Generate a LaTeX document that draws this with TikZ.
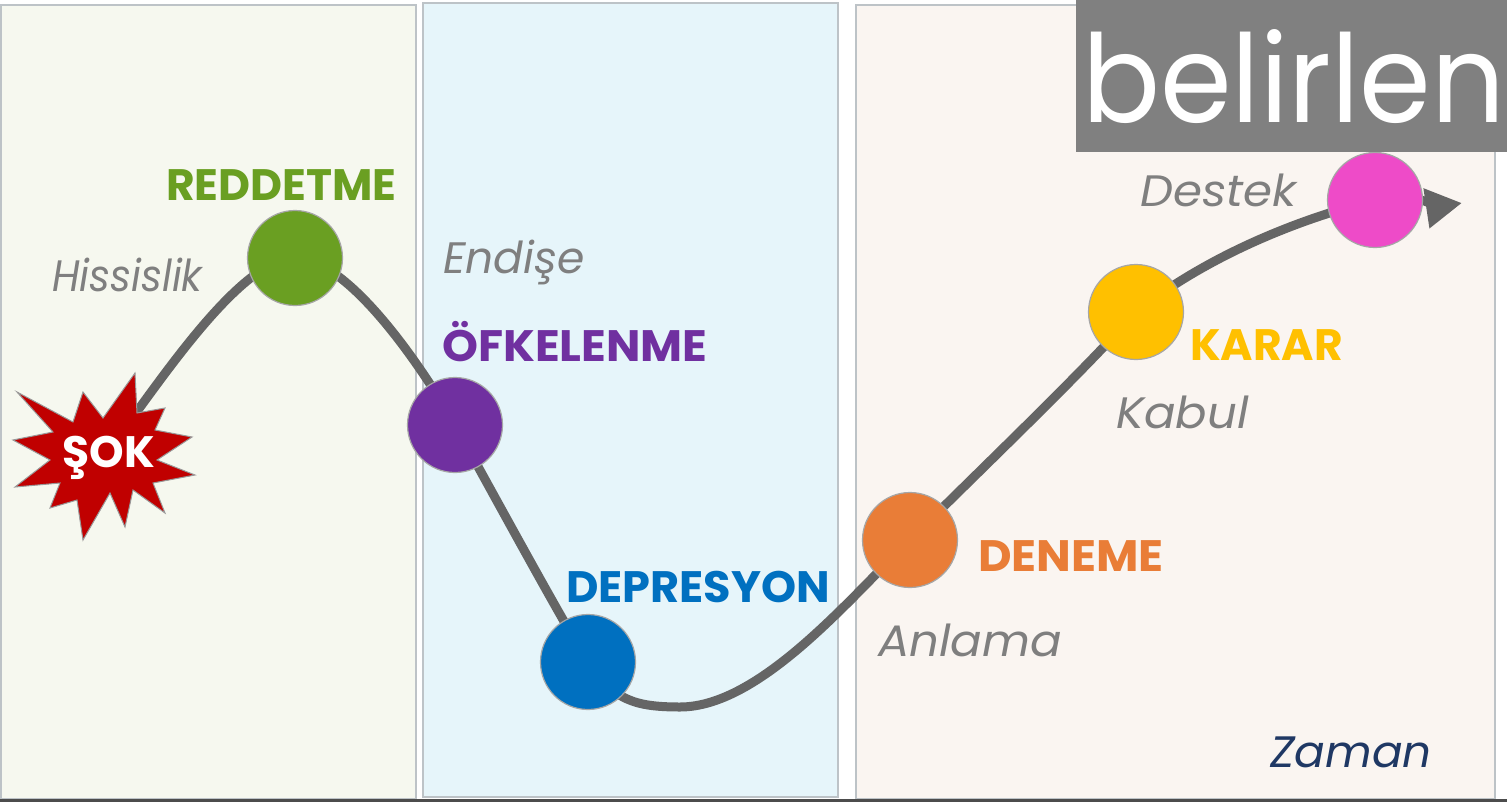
\documentclass[tikz,border=0pt]{standalone}
\usepackage{fontspec}
\setmainfont{Poppins}
\usetikzlibrary{arrows.meta}
\definecolor{panelA}{HTML}{F6F8EF}
\definecolor{panelB}{HTML}{E6F5FA}
\definecolor{panelC}{HTML}{FAF5F1}
\definecolor{panelEdge}{HTML}{BDC3C7}
\definecolor{curveGray}{HTML}{656565}
\definecolor{labelGray}{HTML}{7F7F7F}
\definecolor{cGreen}{HTML}{6A9F22}
\definecolor{cPurple}{HTML}{7030A0}
\definecolor{cBlue}{HTML}{0070C0}
\definecolor{cOrange}{HTML}{E97D37}
\definecolor{cYellow}{HTML}{FFC000}
\definecolor{cMagenta}{HTML}{EE4BC8}
\definecolor{shockRed}{HTML}{C00000}
\definecolor{timeBlue}{HTML}{1F3864}
\definecolor{tagGray}{HTML}{808080}
\tikzset{
  panel/.style={fill=#1, draw=panelEdge, line width=1.5pt},
  stage/.style={circle, minimum size=95pt, inner sep=0pt, fill=#1, draw=gray!70, line width=1.2pt},
  phase/.style={anchor=west, inner sep=0pt, text=#1, font=\fontsize{44}{48}\selectfont\bfseries},
  feeling/.style={anchor=west, inner sep=0pt, text=labelGray, font=\fontsize{44}{48}\selectfont\itshape},
  journey/.style={draw=curveGray, line width=9pt, -{Triangle[length=36pt 0,width=38pt 0]}}
}
\begin{document}
\begin{tikzpicture}[x=1pt,y=-1pt]
\useasboundingbox (0,0) rectangle (1507,809);
\fill[white] (0,0) rectangle (1507,809);

% three phase panels
\draw[panel=panelA] (1,5) rectangle (416,799);
\draw[panel=panelB] (423,3) rectangle (838,797);
\draw[panel=panelC] (856,5) rectangle (1495,799);
% time axis
\draw[draw=black!70, line width=3pt] (0,800) -- (1507,800);

% stage positions
\coordinate (pStart) at (118,437);
\coordinate (pRed) at (295,258);
\coordinate (pAng) at (455,425);
\coordinate (pDep) at (588,662);
\coordinate (pLow) at (680,707);
\coordinate (pTry) at (910,540);
\coordinate (pDec) at (1136,312);
\coordinate (pSup) at (1375,200);
\coordinate (pEnd) at (1462,203);

% change curve
\draw[journey] (pStart)
  .. controls +(40,-52) and +(-55,0) .. (pRed)
  .. controls +(55,0) and +(-28,-50) .. (pAng)
  .. controls +(40,72) and +(-28,-45) .. (pDep)
  .. controls +(25,38) and +(-45,0) .. (pLow)
  .. controls +(80,0) and +(-60,58) .. (pTry)
  .. controls +(70,-70) and +(-55,62) .. (pDec)
  .. controls +(70,-55) and +(-80,20) .. (pSup)
  .. controls +(40,-8) and +(-20,3) .. (pEnd);

% shock burst
\draw[fill=shockRed, draw=gray!80, line width=1pt]
  (135,373) -- (137,413) -- (165,408) -- (155,430) -- (192,437) -- (157,460)
  -- (195,475) -- (153,483) -- (165,513) -- (133,490) -- (125,527) -- (110,493)
  -- (83,540) -- (77,500) -- (50,508) -- (60,483) -- (15,487) -- (50,460)
  -- (13,440) -- (53,432) -- (17,392) -- (73,422) -- (83,392) -- (103,418) -- cycle;
\node[inner sep=0pt, text=white, font=\fontsize{44}{48}\selectfont\bfseries] (shock) at (109,458) {ŞOK};

% stage circles
\node[stage=cGreen] (red) at (pRed) {};
\node[stage=cPurple] (ang) at (pAng) {};
\node[stage=cBlue] (dep) at (pDep) {};
\node[stage=cOrange] (try) at (pTry) {};
\node[stage=cYellow] (dec) at (pDec) {};
\node[stage=cMagenta] (sup) at (pSup) {};

% stage names
\node[phase=cGreen] (tRed) at (166,185) {REDDETME};
\node[phase=cPurple] (tAng) at (442,342) {\scalebox{1.04}[1]{ÖFKELENME}};
\node[phase=cBlue] (tDep) at (566,587) {\scalebox{1.015}[1]{DEPRESYON}};
\node[phase=cOrange] (tTry) at (978,556) {\scalebox{1.05}[1]{DENEME}};
\node[phase=cYellow] (tDec) at (1190,345) {KARAR};

% feelings
\node[feeling] (fNumb) at (52,275) {\scalebox{0.91}[1]{Hissislik}};
\node[feeling] (fWorry) at (443,262) {Endişe};
\node[feeling] (fGrasp) at (878,640) {\scalebox{1.06}[1]{Anlama}};
\node[feeling] (fAccept) at (1116,412) {\scalebox{1.06}[1]{Kabul}};
\node[feeling] (fSupport) at (1140,190) {\scalebox{1.06}[1]{Destek}};
\node[feeling, text=timeBlue] (fTime) at (1270,752) {\scalebox{1.03}[1]{Zaman}};

% title tag
\fill[tagGray] (1076,0) rectangle (1507,152);
\node[anchor=base west, inner sep=0pt, text=white, font=\fontsize{122}{130}\selectfont] (tag) at (1082,122) {\resizebox{423pt}{93pt}{belirlen}};
\end{tikzpicture}
\end{document}
